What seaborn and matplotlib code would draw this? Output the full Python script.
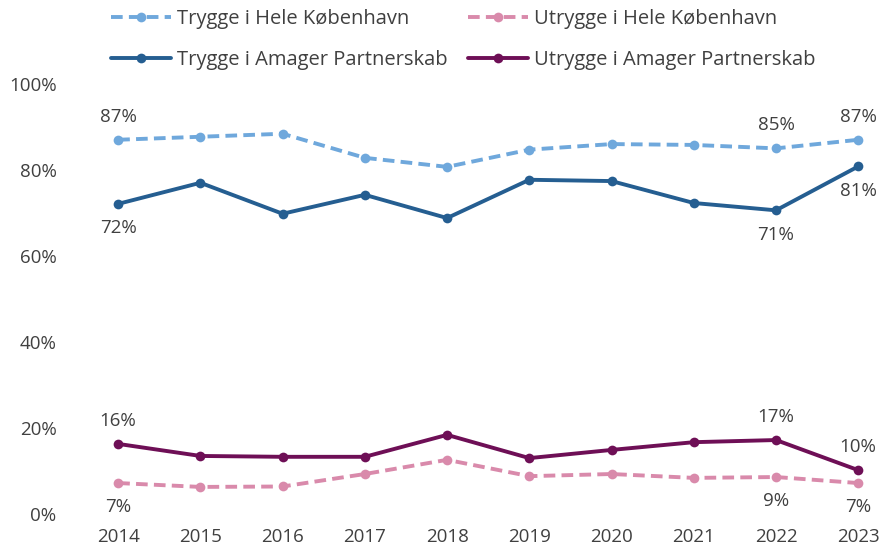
import seaborn as sns
import matplotlib.pyplot as plt
import pandas as pd
from matplotlib.ticker import PercentFormatter

years = [2014, 2015, 2016, 2017, 2018, 2019, 2020, 2021, 2022, 2023]
trygge_kbh = [87.0, 87.7, 88.4, 82.8, 80.7, 84.7, 86.0, 85.8, 85.0, 87.0]
utrygge_kbh = [7.2, 6.3, 6.4, 9.3, 12.6, 8.8, 9.3, 8.4, 8.6, 7.2]
trygge_amager = [72.1, 77.0, 69.8, 74.2, 68.8, 77.7, 77.4, 72.3, 70.6, 80.8]
utrygge_amager = [16.3, 13.5, 13.3, 13.3, 18.4, 13.0, 14.9, 16.7, 17.2, 10.2]

names = ["Trygge i Hele København", "Trygge i Amager Partnerskab",
         "Utrygge i Hele København", "Utrygge i Amager Partnerskab"]
series = [trygge_kbh, trygge_amager, utrygge_kbh, utrygge_amager]
colors = ["#6fa8dc", "#255e91", "#d98aab", "#6e0f56"]
dashed = [True, False, True, False]

# long format for seaborn
df = pd.DataFrame({
    "year": years * 4,
    "value": sum(series, []),
    "serie": [n for n in names for _ in years],
})

sns.set_theme(style="white")
plt.rcParams["font.family"] = ["Open Sans", "DejaVu Sans"]
text_col = "#404040"

fig = plt.figure(figsize=(8.81, 5.48), dpi=100)
ax = fig.add_axes([0.08, 0.062, 0.91, 0.785])

sns.lineplot(data=df, x="year", y="value", hue="serie", style="serie",
             hue_order=names, style_order=names,
             palette=dict(zip(names, colors)),
             dashes={n: ((3, 1.6) if d else "") for n, d in zip(names, dashed)},
             markers={n: "o" for n in names},
             markersize=7, markeredgewidth=0, linewidth=2.8, ax=ax)

ax.set_ylim(0, 100)
ax.set_xlim(2014 - 0.58, 2023 + 0.17)
ax.set_xticks(years)
ax.set_yticks(range(0, 101, 20))
ax.yaxis.set_major_formatter(PercentFormatter(decimals=0))
ax.set_xlabel("")
ax.set_ylabel("")
ax.tick_params(axis="both", labelsize=13.5, colors=text_col, length=0)
ax.tick_params(axis="x", pad=10)
ax.tick_params(axis="y", pad=10)
for s in ax.spines.values():
    s.set_visible(False)

# data labels: (series index, year index, above?)
labels = [(0, 0, True), (0, 8, True), (0, 9, True),
          (1, 0, False), (1, 8, False), (1, 9, False),
          (2, 0, False), (2, 8, False), (2, 9, False),
          (3, 0, True), (3, 8, True), (3, 9, True)]
for si, yi, above in labels:
    v = series[si][yi]
    ax.annotate(f"{round(v)}%", (years[yi], v), xytext=(0, 10 if above else -11),
                textcoords="offset points", ha="center",
                va="bottom" if above else "top", fontsize=13.5, color=text_col)

handles, lbls = ax.get_legend_handles_labels()
ax.legend(handles, lbls, loc="lower center", bbox_to_anchor=(0.49, 0.99), ncol=2,
          frameon=False, fontsize=14.5, labelcolor=text_col, handlelength=3.0,
          columnspacing=1.0, handletextpad=0.3, labelspacing=1.05)

fig.savefig("out.png", dpi=100)
